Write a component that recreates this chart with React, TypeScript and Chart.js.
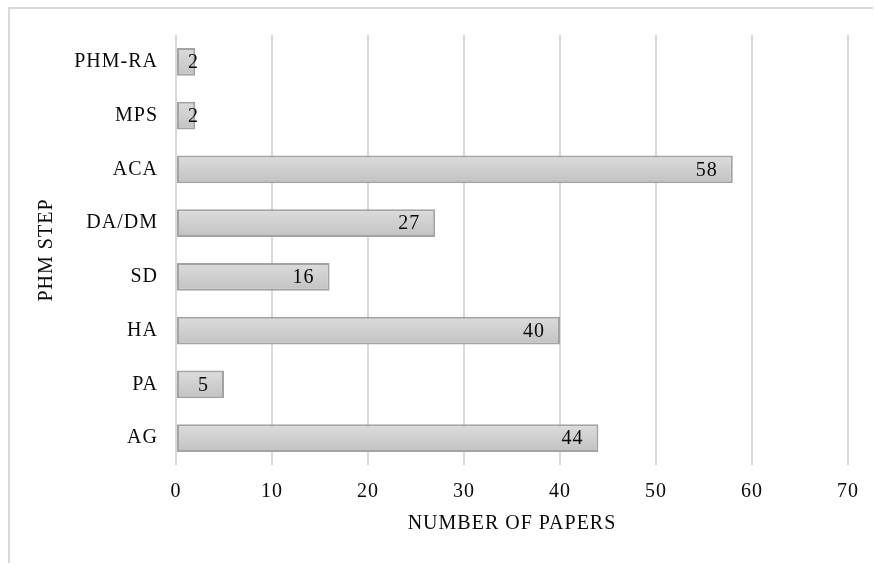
import React, { useEffect, useRef } from "react";
import { Chart, registerables } from "chart.js";

Chart.register(...registerables);

const categories = ["PHM-RA", "MPS", "ACA", "DA/DM", "SD", "HA", "PA", "AG"];
const paperCounts = [2, 2, 58, 27, 16, 40, 5, 44];
const xTickMax = 70;
const xTickStep = 10;
const xTitle = "NUMBER OF PAPERS";
const yTitle = "PHM STEP";

const FONT = "'Liberation Serif', 'Times New Roman', serif";
const FONT_SIZE = 20;
const TEXT = "#0a0a0a";

const setSpacing = (ctx: any) => {
  if ("letterSpacing" in ctx) ctx.letterSpacing = "1px";
};

const framePlugin = {
  id: "frame",
  beforeUpdate(chart: any) {
    setSpacing(chart.ctx);
  },
  beforeDraw(chart: any) {
    const { ctx, width, height } = chart;
    setSpacing(ctx);
    ctx.save();
    ctx.fillStyle = "#ffffff";
    ctx.fillRect(0, 0, width, height);
    ctx.strokeStyle = "#d9d9d9";
    ctx.lineWidth = 2;
    ctx.beginPath();
    ctx.moveTo(8, 8);
    ctx.lineTo(width - 1, 8);
    ctx.moveTo(9, 8);
    ctx.lineTo(9, height);
    ctx.stroke();
    ctx.restore();
  },
};

const valueLabelPlugin = {
  id: "valueLabels",
  afterDatasetsDraw(chart: any) {
    const { ctx } = chart;
    const meta = chart.getDatasetMeta(0);
    const data = chart.data.datasets[0].data as number[];
    ctx.save();
    ctx.font = `${FONT_SIZE}px ${FONT}`;
    ctx.fillStyle = TEXT;
    ctx.textAlign = "right";
    ctx.textBaseline = "middle";
    meta.data.forEach((bar: any, i: number) => {
      const end = bar.x;
      const base = bar.base;
      const x = Math.max(end - 15, base + 22);
      ctx.fillText(String(data[i]), x, bar.y + 1);
    });
    ctx.restore();
  },
};

export default function App() {
  const canvasRef = useRef<HTMLCanvasElement | null>(null);

  useEffect(() => {
    const canvas = canvasRef.current;
    if (!canvas) return;
    const chart = new Chart(canvas, {
      type: "bar",
      data: {
        labels: categories,
        datasets: [
          {
            data: paperCounts,
            backgroundColor: (c: any) => {
              const ch = c.chart;
              const yScale = ch.scales?.y;
              if (!yScale || c.dataIndex === undefined) return "#d0d0d0";
              const cy = yScale.getPixelForValue(c.dataIndex);
              if (!Number.isFinite(cy)) return "#d0d0d0";
              const g = ch.ctx.createLinearGradient(0, cy - 14, 0, cy + 14);
              g.addColorStop(0, "#dcdcdc");
              g.addColorStop(1, "#c2c2c2");
              return g;
            },
            borderColor: "#a3a3a3",
            borderWidth: 2,
            borderSkipped: false,
            barPercentage: 0.52,
            categoryPercentage: 1,
          },
        ],
      },
      options: {
        indexAxis: "y",
        responsive: false,
        animation: false,
        devicePixelRatio: 1,
        layout: { padding: { left: 31, right: 26, top: 35, bottom: 20 } },
        plugins: {
          legend: { display: false },
          tooltip: { enabled: false },
          title: { display: false },
        },
        scales: {
          x: {
            min: 0,
            max: xTickMax,
            border: { display: false },
            grid: { color: "#d9d9d9", lineWidth: 2, drawTicks: false },
            ticks: {
              stepSize: xTickStep,
              padding: 15,
              color: TEXT,
              font: { family: FONT, size: FONT_SIZE },
            },
            title: {
              display: true,
              text: xTitle,
              color: TEXT,
              font: { family: FONT, size: FONT_SIZE },
              padding: { top: 0, bottom: 7 },
            },
            afterFit: (scale: any) => {
              scale.height = 78;
            },
          },
          y: {
            border: { display: false },
            grid: { display: false, drawTicks: false },
            ticks: {
              padding: 18,
              color: TEXT,
              font: { family: FONT, size: FONT_SIZE },
            },
            title: {
              display: true,
              text: yTitle,
              color: TEXT,
              font: { family: FONT, size: FONT_SIZE },
              padding: { top: 4, bottom: 0 },
            },
            afterFit: (scale: any) => {
              scale.width = 145;
            },
          },
        },
      },
      plugins: [framePlugin, valueLabelPlugin],
    } as any);
    return () => chart.destroy();
  }, []);

  return (
    <div style={{ position: "absolute", left: 0, top: 0, width: 874, height: 563 }}>
      <canvas ref={canvasRef} width={874} height={563} style={{ width: 874, height: 563, display: "block" }} />
    </div>
  );
}
